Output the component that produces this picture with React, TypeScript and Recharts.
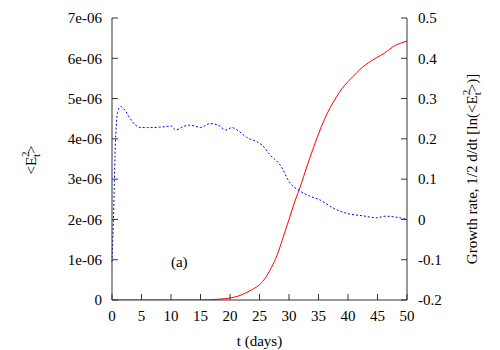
import { LineChart, Line, XAxis, YAxis, ReferenceDot } from "recharts";

// <E^2_t> (left axis)
const energyT = [
  0, 5, 10, 15, 16, 17, 18, 19, 20, 21, 22, 23, 24, 25, 26, 27, 28, 29, 30, 31, 32, 33, 34, 35, 36, 37, 38,
  39, 40, 41, 42, 43, 44, 45, 46, 47, 48, 49, 50,
];
const energyValues = [
  0, 0, 0, 0.001e-6, 0.005e-6, 0.01e-6, 0.02e-6, 0.03e-6, 0.05e-6, 0.08e-6, 0.13e-6, 0.2e-6, 0.28e-6,
  0.38e-6, 0.55e-6, 0.8e-6, 1.12e-6, 1.55e-6, 2.0e-6, 2.45e-6, 2.85e-6, 3.3e-6, 3.72e-6, 4.12e-6, 4.48e-6,
  4.78e-6, 5.03e-6, 5.25e-6, 5.42e-6, 5.57e-6, 5.72e-6, 5.84e-6, 5.94e-6, 6.03e-6, 6.11e-6, 6.22e-6,
  6.32e-6, 6.38e-6, 6.43e-6,
];

// growth rate (right axis)
const rateT = [
  0, 0.3, 0.5, 0.8, 1.0, 1.5, 2.2, 3, 4, 5, 6, 7, 8, 9, 10, 10.8, 12, 13, 14, 15, 16.6, 18, 19.3, 20.3, 21.4,
  22.8, 24.5, 25.4, 26.8, 28.5, 30.2, 31.8, 33.5, 35.3, 37.5, 39.8, 42.5, 44.9, 46.3, 48, 50,
];
const rateValues = [
  -0.105, 0.03, 0.156, 0.247, 0.27, 0.28, 0.271, 0.252, 0.234, 0.228, 0.228, 0.228, 0.229, 0.23, 0.232,
  0.222, 0.23, 0.234, 0.232, 0.228, 0.238, 0.234, 0.222, 0.228, 0.22, 0.204, 0.193, 0.185, 0.16, 0.135,
  0.09, 0.071, 0.058, 0.048, 0.028, 0.015, 0.009, 0.004, 0.008, 0.006, 0.0,
];

const xTicks = [0, 5, 10, 15, 20, 25, 30, 35, 40, 45, 50];
const leftTicks = [0, 1e-6, 2e-6, 3e-6, 4e-6, 5e-6, 6e-6, 7e-6];
const rightTicks = [-0.2, -0.1, 0, 0.1, 0.2, 0.3, 0.4, 0.5];

const energyData = energyT.map((t, i) => ({ t, energy: energyValues[i] }));
const rateData = rateT.map((t, i) => ({ t, rate: rateValues[i] }));

// plot box (gnuplot-like frame)
const PL = 112;
const PR = 407;
const PT = 18;
const PB = 300;
const TICK = 6;

const font = "Liberation Serif";
const axisColor = "#333";
const textProps = { fill: "#000", fontSize: 15, fontFamily: font };

const fmtLeft = (v: number) => (v === 0 ? "0" : `${Math.round(v * 1e6)}e-06`);

function LeftTick(props: any) {
  const { y, payload } = props;
  return (
    <g>
      <line x1={PL} x2={PL + TICK} y1={y} y2={y} stroke={axisColor} />
      <text x={PL - 10} y={y} dy="0.35em" textAnchor="end" {...textProps}>
        {fmtLeft(payload.value)}
      </text>
    </g>
  );
}

function RightTick(props: any) {
  const { y, payload } = props;
  return (
    <g>
      <line x1={PR - TICK} x2={PR} y1={y} y2={y} stroke={axisColor} />
      <text x={PR + 11} y={y} dy="0.35em" textAnchor="start" {...textProps}>
        {String(payload.value)}
      </text>
    </g>
  );
}

function BottomTick(props: any) {
  const { x, payload } = props;
  return (
    <g>
      <line x1={x} x2={x} y1={PB} y2={PB - TICK} stroke={axisColor} />
      <text x={x} y={PB + 10} dy="0.71em" textAnchor="middle" {...textProps}>
        {String(payload.value)}
      </text>
    </g>
  );
}

function TopTick(props: any) {
  const { x } = props;
  return <line x1={x} x2={x} y1={PT} y2={PT + TICK} stroke={axisColor} />;
}

function LeftTitle() {
  return (
    <text x={36} y={160} transform="rotate(-90 36 160)" textAnchor="middle" {...textProps}>
      {"<E"}
      <tspan dy={-7} fontSize={11}>2</tspan>
      <tspan dx={-5.5} dy={11} fontSize={11}>t</tspan>
      <tspan dy={-4}>{">"}</tspan>
    </text>
  );
}

function RightTitle() {
  return (
    <text x={477} y={169} transform="rotate(-90 477 169)" textAnchor="middle" {...textProps}>
      {"Growth rate, 1/2 d/dt [ln(<E"}
      <tspan dy={-7} fontSize={11}>2</tspan>
      <tspan dx={-5.5} dy={11} fontSize={11}>t</tspan>
      <tspan dy={-4}>{">)]"}</tspan>
    </text>
  );
}

export default function App() {
  return (
    <div style={{ position: "absolute", left: 0, top: 0, background: "#fff" }}>
      <LineChart width={500} height={350} margin={{ top: PT, right: 0, bottom: 0, left: 0 }}>
        <XAxis
          dataKey="t"
          type="number"
          domain={[0, 50]}
          ticks={xTicks}
          tickLine={false}
          tick={<BottomTick />}
          stroke={axisColor}
          height={350 - PB}
          interval={0}
          label={{ value: "t (days)", position: "insideBottom", offset: 4, style: textProps }}
        />
        <XAxis
          xAxisId="top"
          orientation="top"
          dataKey="t"
          type="number"
          domain={[0, 50]}
          ticks={xTicks}
          tickLine={false}
          tick={<TopTick />}
          stroke={axisColor}
          height={0}
          interval={0}
        />
        <YAxis
          yAxisId="left"
          type="number"
          domain={[0, 7e-6]}
          ticks={leftTicks}
          tickLine={false}
          tick={<LeftTick />}
          stroke={axisColor}
          width={PL}
          interval={0}
          allowDataOverflow
          label={{ content: () => <LeftTitle /> }}
        />
        <YAxis
          yAxisId="right"
          orientation="right"
          type="number"
          domain={[-0.2, 0.5]}
          ticks={rightTicks}
          tickLine={false}
          tick={<RightTick />}
          stroke={axisColor}
          width={500 - PR}
          interval={0}
          allowDataOverflow
          label={{ content: () => <RightTitle /> }}
        />
        <Line
          data={energyData}
          yAxisId="left"
          dataKey="energy"
          type="monotone"
          stroke="#ff0000"
          strokeWidth={1}
          dot={false}
          isAnimationActive={false}
        />
        <Line
          data={rateData}
          yAxisId="right"
          dataKey="rate"
          type="monotone"
          stroke="#0000ff"
          strokeWidth={1}
          strokeDasharray="2 2"
          dot={false}
          isAnimationActive={false}
        />
        <ReferenceDot
          yAxisId="left"
          x={11.4}
          y={0.95e-6}
          r={0}
          fill="none"
          stroke="none"
          label={{ value: "(a)", position: "center", style: textProps }}
        />
      </LineChart>
    </div>
  );
}
